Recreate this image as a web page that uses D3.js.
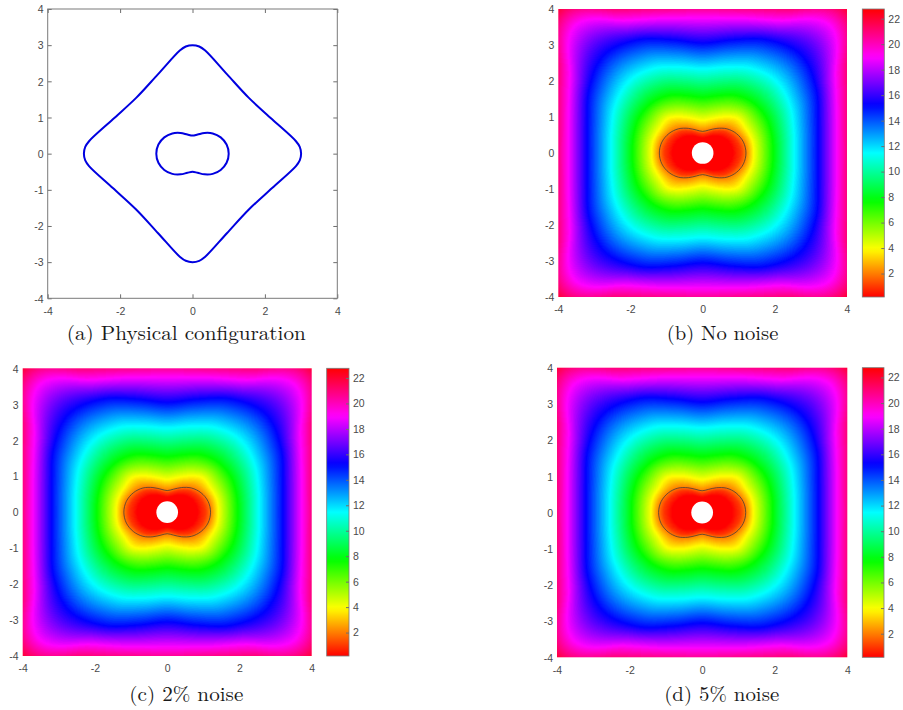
<!DOCTYPE html>
<html>
<head>
<meta charset="utf-8">
<script src="https://cdn.jsdelivr.net/npm/d3@7"></script>
<style>
  body { margin: 0; background: #fff; }
  .tick text { font-family: "Liberation Sans", Arial, sans-serif; font-size: 10.5px; fill: #4a4a4a; }
  .tick line { stroke: #6e6e6e; }
</style>
</head>
<body>
<svg id="fig" width="903" height="710"></svg>
<script>
// ---- data ----
// rays in the first quadrant (field is mirrored in both axes)
var angles = [0, 15, 30, 45, 60, 75, 90];
// field levels and the radius where each ray reaches that level
var levels = [0.2, 1, 2, 4, 7.7, 11.5, 15.2, 19, 21];
var contourRadii = [
  [0.84, 0.82, 0.76, 0.66, 0.55, 0.46, 0.42],
  [1.06, 1.03, 0.95, 0.84, 0.70, 0.58, 0.53],
  [1.20, 1.17, 1.08, 0.95, 0.79, 0.66, 0.60],
  [1.42, 1.42, 1.38, 1.37, 1.17, 1.00, 0.92],
  [1.95, 1.98, 2.02, 1.98, 1.85, 1.65, 1.55],
  [2.55, 2.62, 2.78, 2.86, 2.72, 2.48, 2.35],
  [3.20, 3.31, 3.62, 3.85, 3.62, 3.25, 3.05],
  [3.72, 3.85, 4.25, 5.00, 4.25, 3.88, 3.75],
  [4.02, 4.15, 4.62, 5.45, 4.62, 4.18, 4.08]
];
var cMin = 0.16, cMax = 22.76;
var holeRadius = 0.3;
// dark contour drawn on the heat maps = level 2 row above
var contourLevelIndex = 2;
// inner peanut (panel a): radius per ray angle
var peanutRadii = [1.0, 0.975, 0.90, 0.79, 0.66, 0.548, 0.5];
// outer rounded diamond (panel a), first quadrant from (3,0) to (0,3)
var outerX = [3.0, 2.963, 2.858, 2.20, 1.55, 0.95, 0.343, 0.186, 0.0];
var outerY = [0.0, 0.186, 0.343, 0.95, 1.55, 2.20, 2.858, 2.963, 3.0];

var xTicks = [-4, -2, 0, 2, 4];
var yTicks = [-4, -3, -2, -1, 0, 1, 2, 3, 4];
var barTicks = [2, 4, 6, 8, 10, 12, 14, 16, 18, 20, 22];
var captions = ["(a) Physical configuration", "(b) No noise", "(c) 2% noise", "(d) 5% noise"];

// ---- layout ----
var panels = [
  {x0: 47.7, x1: 337.3, y0: 9, y1: 298.3, cx: 186.3, cy: 340, cw: 239},
  {x0: 558.3, x1: 847, y0: 9, y1: 297, bar: [862.3, 884.3], cx: 722.5, cy: 340, cw: 111.6},
  {x0: 22.7, x1: 311.7, y0: 368.3, y1: 656, bar: [326.7, 349], cx: 186.3, cy: 701, cw: 114},
  {x0: 557, x1: 847.3, y0: 367.7, y1: 657.3, bar: [862.3, 884], cx: 721.7, cy: 701, cw: 115}
];

var svg = d3.select("#fig");
var fmt = function(d) { return String(d); };

var hsvColor = d3.scaleSequential(function(t) { return d3.hsl(t * 360, 1, 0.5) + ""; })
  .domain([cMin, cMax]).clamp(true);
var lut = d3.range(256).map(function(i) {
  var c = d3.rgb(hsvColor(cMin + (cMax - cMin) * i / 255));
  return [c.r, c.g, c.b];
});

function catmull(p0, p1, p2, p3, t) {
  var t2 = t * t, t3 = t2 * t;
  return 0.5 * (2 * p1 + (-p0 + p2) * t + (2 * p0 - 5 * p1 + 4 * p2 - p3) * t2 + (-p0 + 3 * p1 - 3 * p2 + p3) * t3);
}
function mirrorIdx(k, n) {
  if (k < 0) return -k;
  if (k > n - 1) return 2 * (n - 1) - k;
  return k;
}
function rayValue(row, theta) {
  var n = angles.length, step = angles[1] - angles[0];
  var f = theta / step, i = Math.min(Math.floor(f), n - 2), t = f - i;
  return catmull(row[mirrorIdx(i - 1, n)], row[i], row[i + 1], row[mirrorIdx(i + 2, n)], t);
}
function fieldValue(x, y) {
  var r = Math.hypot(x, y);
  var th = Math.atan2(Math.abs(y), Math.abs(x)) * 180 / Math.PI;
  var R = contourRadii.map(function(row) { return rayValue(row, th); });
  if (r <= R[0]) return levels[0];
  for (var k = 1; k < R.length; k++) {
    if (r <= R[k]) return levels[k - 1] + (levels[k] - levels[k - 1]) * (r - R[k - 1]) / (R[k] - R[k - 1]);
  }
  k = R.length - 1;
  var slope = (levels[k] - levels[k - 1]) / (R[k] - R[k - 1]);
  return Math.min(cMax, levels[k] + (r - R[k]) * slope);
}

// closed curve through ray radii, mirrored into 4 quadrants
function polarLoop(radii) {
  var pts = [], n = angles.length;
  [0, 1, 2, 3].forEach(function(q) {
    for (var i = 0; i < n - 1; i++) {
      var a = (q * 90 + angles[i]) * Math.PI / 180;
      var rr = q % 2 ? radii[n - 1 - i] : radii[i];
      pts.push([rr * Math.cos(a), rr * Math.sin(a)]);
    }
  });
  return pts;
}
function outerLoop() {
  var pts = [], n = outerX.length;
  for (var i = 0; i < n - 1; i++) pts.push([outerX[i], outerY[i]]);
  for (i = n - 1; i > 0; i--) pts.push([-outerX[i], outerY[i]]);
  for (i = 0; i < n - 1; i++) pts.push([-outerX[i], -outerY[i]]);
  for (i = n - 1; i > 0; i--) pts.push([outerX[i], -outerY[i]]);
  return pts;
}

function drawAxes(g, p, x, y, boxed) {
  var ax = g.append("g").attr("transform", "translate(0," + p.y1 + ")")
    .call(d3.axisBottom(x).tickValues(xTicks).tickFormat(fmt).tickSizeInner(boxed ? -4 : 0).tickSizeOuter(0).tickPadding(9));
  var ay = g.append("g").attr("transform", "translate(" + p.x0 + ",0)")
    .call(d3.axisLeft(y).tickValues(yTicks).tickFormat(fmt).tickSizeInner(boxed ? -4 : 0).tickSizeOuter(0).tickPadding(4));
  ax.select(".domain").remove();
  ay.select(".domain").remove();
  ay.selectAll(".tick text").attr("dy", "0.36em");
  if (boxed) {
    g.append("g").attr("transform", "translate(0," + p.y0 + ")")
      .call(d3.axisTop(x).tickValues(xTicks).tickSizeInner(-4).tickSizeOuter(0).tickFormat(""))
      .select(".domain").remove();
    g.append("g").attr("transform", "translate(" + p.x1 + ",0)")
      .call(d3.axisRight(y).tickValues(yTicks).tickSizeInner(-4).tickSizeOuter(0).tickFormat(""))
      .select(".domain").remove();
    g.append("rect").attr("x", p.x0).attr("y", p.y0)
      .attr("width", p.x1 - p.x0).attr("height", p.y1 - p.y0)
      .attr("fill", "none").attr("stroke", "#7a7a7a").attr("stroke-width", 1);
  }
  g.selectAll(".tick text").attr("fill", "#4a4a4a");
}

var line = d3.line().curve(d3.curveCatmullRomClosed.alpha(0.5));

panels.forEach(function(p, idx) {
  var g = svg.append("g");
  var x = d3.scaleLinear().domain([-4, 4]).range([p.x0, p.x1]);
  var y = d3.scaleLinear().domain([-4, 4]).range([p.y1, p.y0]);
  var lineXY = line.x(function(d) { return x(d[0]); }).y(function(d) { return y(d[1]); });

  if (idx === 0) {
    drawAxes(g, p, x, y, true);
    g.append("path").attr("d", lineXY(outerLoop()))
      .attr("fill", "none").attr("stroke", "#0000e0").attr("stroke-width", 2);
    g.append("path").attr("d", lineXY(polarLoop(peanutRadii)))
      .attr("fill", "none").attr("stroke", "#0000e0").attr("stroke-width", 2);
  } else {
    var W = Math.round(p.x1 - p.x0), H = Math.round(p.y1 - p.y0);
    var canvas = document.createElement("canvas");
    canvas.width = W; canvas.height = H;
    var ctx = canvas.getContext("2d");
    var img = ctx.createImageData(W, H);
    var px = d3.scaleLinear().domain([0, W]).range([-4, 4]);
    var py = d3.scaleLinear().domain([0, H]).range([4, -4]);
    for (var j = 0; j < H; j++) {
      for (var i = 0; i < W; i++) {
        var v = fieldValue(px(i + 0.5), py(j + 0.5));
        var li = Math.max(0, Math.min(255, Math.round((v - cMin) / (cMax - cMin) * 255)));
        var o = 4 * (j * W + i), c = lut[li];
        img.data[o] = c[0]; img.data[o + 1] = c[1]; img.data[o + 2] = c[2]; img.data[o + 3] = 255;
      }
    }
    ctx.putImageData(img, 0, 0);
    g.append("image").attr("href", canvas.toDataURL())
      .attr("x", p.x0).attr("y", p.y0).attr("width", p.x1 - p.x0).attr("height", p.y1 - p.y0)
      .attr("preserveAspectRatio", "none");

    g.append("path").attr("d", lineXY(polarLoop(contourRadii[contourLevelIndex])))
      .attr("fill", "none").attr("stroke", "#3c3c3c").attr("stroke-width", 0.9).attr("stroke-opacity", 0.85);
    g.append("circle").attr("cx", x(0)).attr("cy", y(0))
      .attr("r", x(holeRadius) - x(0)).attr("fill", "#fff");

    drawAxes(g, p, x, y, false);

    // colour bar
    var gradId = "grad" + idx;
    var grad = svg.append("defs").append("linearGradient").attr("id", gradId)
      .attr("x1", 0).attr("y1", 1).attr("x2", 0).attr("y2", 0);
    grad.selectAll("stop").data(d3.range(65)).enter().append("stop")
      .attr("offset", function(d) { return d / 64; })
      .attr("stop-color", function(d) { return hsvColor(cMin + (cMax - cMin) * d / 64); });
    var cb = d3.scaleLinear().domain([cMin, cMax]).range([p.y1, p.y0]);
    g.append("rect").attr("x", p.bar[0]).attr("y", p.y0)
      .attr("width", p.bar[1] - p.bar[0]).attr("height", p.y1 - p.y0)
      .attr("fill", "url(#" + gradId + ")").attr("stroke", "#7a7a7a").attr("stroke-width", 0.8);
    var ab = g.append("g").attr("transform", "translate(" + p.bar[1] + ",0)")
      .call(d3.axisRight(cb).tickValues(barTicks).tickFormat(fmt).tickSizeInner(-3).tickSizeOuter(0).tickPadding(4));
    ab.select(".domain").remove();
    ab.selectAll(".tick text").attr("fill", "#4a4a4a");
  }

  g.append("text").attr("x", p.cx).attr("y", p.cy)
    .attr("text-anchor", "middle")
    .attr("font-family", "'Latin Modern Roman', 'CMU Serif', 'Liberation Serif', serif")
    .attr("font-size", 20).attr("fill", "#1a1a1a")
    .attr("textLength", p.cw).attr("lengthAdjust", "spacingAndGlyphs")
    .text(captions[idx]);
});
</script>
</body>
</html>
